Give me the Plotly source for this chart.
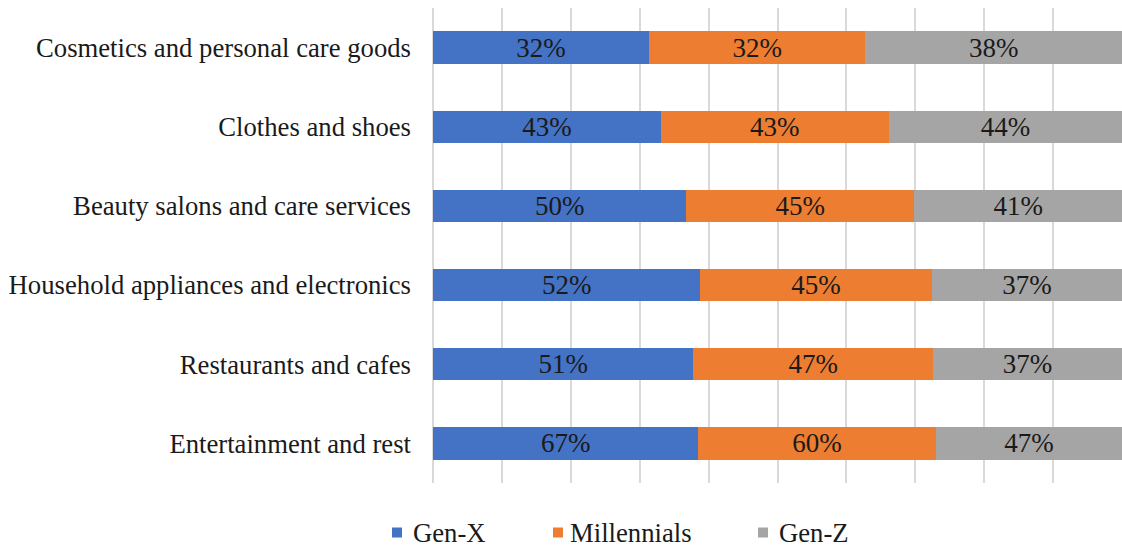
import plotly.graph_objects as go

# Share of respondents per spending category, by generation
categories = [
    "Cosmetics and personal care goods",
    "Clothes and shoes",
    "Beauty salons and care services",
    "Household appliances and electronics",
    "Restaurants and cafes",
    "Entertainment and rest",
]
gen_x = [32, 43, 50, 52, 51, 67]
millennials = [32, 43, 45, 45, 47, 60]
gen_z = [38, 44, 41, 37, 37, 47]

series_names = ["Gen-X", "Millennials", "Gen-Z"]
series_values = [gen_x, millennials, gen_z]
series_colors = ["#4472C4", "#ED7D31", "#A5A5A5"]

FONT = "Liberation Serif"
W, H = 1122, 548
M_L, M_R, M_T, M_B = 433, 0, 8, 65

axis_font = dict(family=FONT, size=26.7, color="#1a1a1a")
value_font = dict(family=FONT, size=27, color="#1a1a1a")

fig = go.Figure()
for name, vals, color in zip(series_names, series_values, series_colors):
    fig.add_trace(go.Bar(
        y=categories,
        x=vals,
        name=name,
        orientation="h",
        marker=dict(color=color, line=dict(width=0)),
        text=[f"{v}%" for v in vals],
        textposition="inside",
        insidetextanchor="middle",
        constraintext="none",
        textangle=0,
        textfont=dict(value_font),
        insidetextfont=dict(value_font),
        showlegend=False,
        hoverinfo="skip",
    ))

fig.update_layout(
    width=W,
    height=H,
    barmode="stack",
    barnorm="fraction",
    bargap=0.59,
    plot_bgcolor="white",
    paper_bgcolor="white",
    margin=dict(l=M_L, r=M_R, t=M_T, b=M_B, pad=0),
    font=dict(axis_font),
    xaxis=dict(
        range=[0, 1],
        tick0=0,
        dtick=0.1,
        showgrid=True,
        gridcolor="#D9D9D9",
        gridwidth=1.5,
        showticklabels=False,
        zeroline=True,
        zerolinecolor="#D9D9D9",
        zerolinewidth=1.5,
        showline=False,
        fixedrange=True,
    ),
    yaxis=dict(
        autorange="reversed",
        showgrid=False,
        showline=False,
        ticks="",
        ticklabelstandoff=21,
        tickfont=dict(axis_font),
        fixedrange=True,
    ),
)

# Legend drawn below the plot: coloured square followed by the series name
plot_w = W - M_L - M_R
plot_h = H - M_T - M_B


def px_to_paper_x(px):
    return (px - M_L) / plot_w


def px_to_paper_y(py):
    return (H - M_B - py) / plot_h


swatch_x = [392, 553, 758]
label_x = [411, 568, 777]
legend_y = 532.5
sq = 10
for name, color, sx, tx in zip(series_names, series_colors, swatch_x, label_x):
    fig.add_shape(
        type="rect", xref="paper", yref="paper",
        x0=px_to_paper_x(sx), x1=px_to_paper_x(sx + sq),
        y0=px_to_paper_y(legend_y + sq / 2), y1=px_to_paper_y(legend_y - sq / 2),
        fillcolor=color, line=dict(width=0),
    )
    fig.add_annotation(
        xref="paper", yref="paper",
        x=px_to_paper_x(tx), y=px_to_paper_y(legend_y),
        text=name, showarrow=False,
        xanchor="left", yanchor="middle",
        font=dict(axis_font),
    )

fig.write_html("out.html", config={"displayModeBar": False})
